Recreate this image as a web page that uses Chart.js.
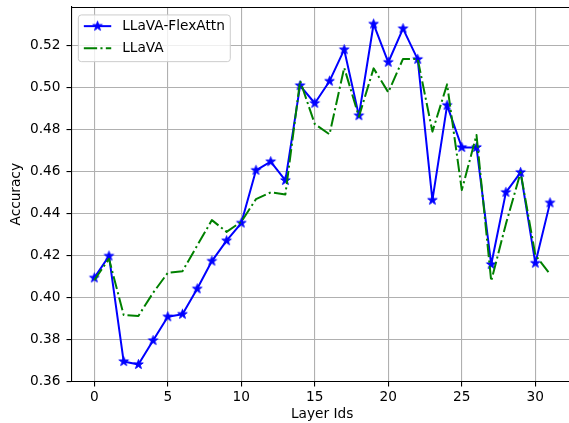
<!DOCTYPE html>
<html>
<head>
<meta charset="utf-8">
<script src="https://cdn.jsdelivr.net/npm/chart.js@4.4.1/dist/chart.umd.min.js"></script>
<style>
  html, body { margin: 0; padding: 0; background: #fff; overflow: hidden; }
  #wrap { width: 569px; height: 423px; overflow: hidden; }
  #box { width: 580px; height: 423px; }
</style>
</head>
<body>
<div id="wrap"><div id="box"><canvas id="chart"></canvas></div></div>
<script>
// Dados
const layerIds = [0, 1, 2, 3, 4, 5, 6, 7, 8, 9, 10, 11, 12, 13, 14, 15,
                  16, 17, 18, 19, 20, 21, 22, 23, 24, 25, 26, 27, 28, 29, 30, 31];
const flexAttn = [0.4093, 0.4197, 0.3695, 0.3681, 0.3795, 0.3908, 0.3920, 0.4041,
                  0.4173, 0.4270, 0.4354, 0.4605, 0.4646, 0.4557, 0.5008, 0.4924,
                  0.5029, 0.5179, 0.4865, 0.5301, 0.5119, 0.5279, 0.5133, 0.4463,
                  0.4914, 0.4714, 0.4714, 0.4157, 0.4500, 0.4595, 0.4163, 0.4450];
const llava =    [0.4082, 0.4184, 0.3916, 0.3912, 0.4022, 0.4117, 0.4125, 0.4247,
                  0.4368, 0.4312, 0.4360, 0.4468, 0.4500, 0.4490, 0.5031, 0.4825,
                  0.4776, 0.5093, 0.4860, 0.5090, 0.4976, 0.5135, 0.5135, 0.4789,
                  0.5014, 0.4511, 0.4773, 0.4078, 0.4350, 0.4595, 0.4202, 0.4111];
const xTicks = [0, 5, 10, 15, 20, 25, 30];
const yTicks = [0.36, 0.38, 0.40, 0.42, 0.44, 0.46, 0.48, 0.50, 0.52];

const FONT = 'DejaVu Sans';
const FS = 13.7;

// Marcador estrela preenchida (como o '*' do matplotlib)
function makeStar(color) {
    const c = document.createElement('canvas');
    c.width = 13; c.height = 13;
    const g = c.getContext('2d');
    const cx = 6.5, cy = 6.5, R = 5, r = R * 0.382;
    g.beginPath();
    for (let i = 0; i < 10; i++) {
        const rad = i % 2 === 0 ? R : r;
        const a = -Math.PI / 2 + i * Math.PI / 5;
        const px = cx + rad * Math.cos(a), py = cy + rad * Math.sin(a);
        if (i === 0) g.moveTo(px, py); else g.lineTo(px, py);
    }
    g.closePath();
    g.fillStyle = color;
    g.fill();
    g.lineWidth = 1;
    g.strokeStyle = color;
    g.lineJoin = 'round';
    g.stroke();
    return c;
}
const blueStar = makeStar('#0000ff');

// Linha superior da moldura (a direita fica fora da imagem)
const framePlugin = {
    id: 'frame',
    afterDatasetsDraw(chart) {
        const a = chart.chartArea, ctx = chart.ctx;
        ctx.save();
        ctx.strokeStyle = '#000';
        ctx.lineWidth = 1.1;
        ctx.beginPath();
        ctx.moveTo(a.left, Math.round(a.top) + 0.5);
        ctx.lineTo(a.right, Math.round(a.top) + 0.5);
        ctx.stroke();
        ctx.restore();
    }
};

// Legenda dentro da área do gráfico, canto superior esquerdo
const legendPlugin = {
    id: 'innerLegend',
    afterDraw(chart) {
        const ctx = chart.ctx, a = chart.chartArea;
        const em = FS;
        ctx.save();
        ctx.font = FS + 'px "' + FONT + '"';
        const ds = [chart.data.datasets[0], chart.data.datasets[1]];
        const textW = Math.max(...ds.map(d => ctx.measureText(d.label).width));
        const x0 = a.left + 0.5 * em, y0 = a.top + 0.58 * em;
        const w = 3.6 * em + textW, h = 46.7;
        ctx.beginPath();
        ctx.roundRect(x0, y0, w, h, 3);
        ctx.fillStyle = 'rgba(255,255,255,0.8)';
        ctx.fill();
        ctx.strokeStyle = '#cccccc';
        ctx.lineWidth = 1;
        ctx.stroke();
        const rows = [y0 + 11.2, y0 + 33.2];
        ds.forEach((d, i) => {
            const y = rows[i];
            const hx0 = x0 + 0.4 * em, hx1 = x0 + 2.4 * em;
            ctx.beginPath();
            ctx.strokeStyle = d.borderColor;
            ctx.lineWidth = d.borderWidth;
            ctx.lineCap = 'butt';
            ctx.setLineDash(d.borderDash || []);
            ctx.moveTo(hx0, y);
            ctx.lineTo(hx1, y);
            ctx.stroke();
            ctx.setLineDash([]);
            if (d.pointStyle instanceof HTMLCanvasElement) {
                const img = d.pointStyle;
                ctx.drawImage(img, (hx0 + hx1) / 2 - img.width / 2, y - img.height / 2);
            }
            ctx.fillStyle = '#000';
            ctx.textBaseline = 'middle';
            ctx.textAlign = 'left';
            ctx.fillText(d.label, x0 + 3.2 * em, y + 0.5);
        });
        ctx.restore();
    }
};

const ctx = document.getElementById('chart').getContext('2d');
new Chart(ctx, {
    type: 'line',
    data: {
        datasets: [
            {
                label: 'LLaVA-FlexAttn',
                data: layerIds.map((x, i) => ({ x: x, y: flexAttn[i] })),
                borderColor: '#0000ff',
                borderWidth: 2,
                borderJoinStyle: 'round',
                pointStyle: blueStar,
                pointRadius: 5,
                pointHoverRadius: 5,
                tension: 0,
                order: 1
            },
            {
                label: 'LLaVA',
                data: layerIds.map((x, i) => ({ x: x, y: llava[i] })),
                borderColor: '#008000',
                borderWidth: 2,
                borderDash: [13.3, 3.3, 2.1, 3.3],
                borderCapStyle: 'butt',
                borderJoinStyle: 'round',
                pointRadius: 0,
                pointHoverRadius: 0,
                tension: 0,
                order: 0
            }
        ]
    },
    options: {
        responsive: true,
        maintainAspectRatio: false,
        animation: false,
        events: [],
        layout: { autoPadding: false, padding: { left: 0, top: 7, right: 7.2, bottom: 0 } },
        plugins: {
            legend: { display: false },
            tooltip: { enabled: false }
        },
        scales: {
            x: {
                type: 'linear',
                min: -1.55,
                max: 32.55,
                afterBuildTicks: axis => { axis.ticks = xTicks.map(v => ({ value: v })); },
                afterFit: s => { s.height = 41.5; s.paddingLeft = 0; s.paddingRight = 0; },
                grid: { color: '#b0b0b0', lineWidth: 1.1, tickColor: '#000', tickLength: 5 },
                border: { display: true, color: '#000', width: 1.1 },
                ticks: { color: '#000', padding: 3, maxRotation: 0, font: { family: FONT, size: FS } },
                title: { display: true, text: 'Layer Ids', color: '#000', padding: { top: 0, bottom: 0 }, font: { family: FONT, size: FS } }
            },
            y: {
                type: 'linear',
                min: 0.36,
                max: 0.5382,
                afterBuildTicks: axis => { axis.ticks = yTicks.map(v => ({ value: v })); },
                afterFit: s => { s.width = 71.5; s.paddingTop = 0; s.paddingBottom = 0; },
                grid: { color: '#b0b0b0', lineWidth: 1.1, tickColor: '#000', tickLength: 5 },
                border: { display: true, color: '#000', width: 1.1 },
                ticks: { color: '#000', padding: 6, callback: v => v.toFixed(2), font: { family: FONT, size: FS } },
                title: { display: true, text: 'Accuracy', color: '#000', padding: { top: 8, bottom: 0 }, font: { family: FONT, size: FS } }
            }
        }
    },
    plugins: [framePlugin, legendPlugin]
});
</script>
</body>
</html>
